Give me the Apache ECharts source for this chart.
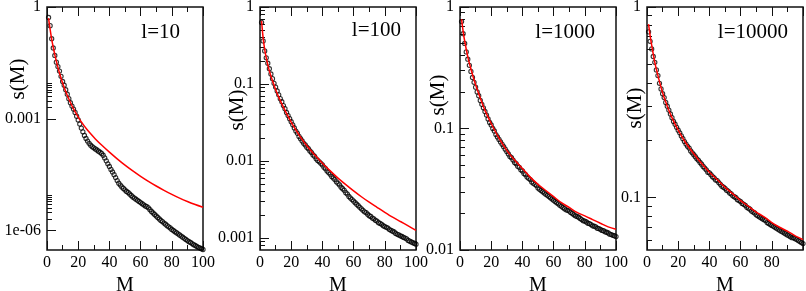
<!DOCTYPE html>
<html><head><meta charset="utf-8">
<script src="https://cdn.jsdelivr.net/npm/echarts@6/dist/echarts.min.js"></script>
<style>html,body{margin:0;padding:0;background:#fff}#c{width:806px;height:291px}</style>
</head><body><div id="c"></div><script>
// ---- data ----
const M = [1,2,3,4,5,6,7,8,9,10,11,12,13,14,15,16,17,18,19,20,21,22,23,24,25,26,27,28,29,30,31,32,33,34,35,36,37,38,39,40,41,42,43,44,45,46,47,48,49,50,51,52,53,54,55,56,57,58,59,60,61,62,63,64,65,66,67,68,69,70,71,72,73,74,75,76,77,78,79,80,81,82,83,84,85,86,87,88,89,90,91,92,93,94,95,96,97,98,99,100];

const black10 = [0.525,0.316,0.141,0.0794,0.0501,0.0331,0.0251,0.0191,0.0138,0.0100,
7.94e-3,6.03e-3,4.57e-3,3.47e-3,2.69e-3,2.19e-3,1.82e-3,1.48e-3,1.175e-3,9.33e-4,
7.24e-4,5.62e-4,4.47e-4,3.55e-4,2.95e-4,2.51e-4,2.19e-4,1.95e-4,1.78e-4,1.66e-4,
1.55e-4,1.45e-4,1.35e-4,1.26e-4,1.175e-4,1.047e-4,8.91e-5,7.41e-5,6.17e-5,5.25e-5,
4.37e-5,3.72e-5,3.16e-5,2.63e-5,2.19e-5,1.86e-5,1.66e-5,1.48e-5,1.35e-5,1.23e-5,
1.12e-5,1.047e-5,9.55e-6,8.71e-6,7.94e-6,7.41e-6,6.92e-6,6.46e-6,6.03e-6,5.62e-6,
5.25e-6,4.90e-6,4.57e-6,4.37e-6,4.07e-6,3.63e-6,3.24e-6,2.95e-6,2.69e-6,2.45e-6,
2.24e-6,2.04e-6,1.86e-6,1.74e-6,1.585e-6,1.48e-6,1.35e-6,1.26e-6,1.175e-6,1.07e-6,
1.00e-6,9.33e-7,8.71e-7,8.13e-7,7.59e-7,7.08e-7,6.61e-7,6.17e-7,5.75e-7,5.37e-7,
5.01e-7,4.79e-7,4.47e-7,4.17e-7,3.98e-7,3.72e-7,3.55e-7,3.39e-7,3.24e-7,3.09e-7];
const redM10 = [1,2,3,4,5,6,7,8,9,10,12,14,16,18,20,22,25,28,31,35,40,45,50,55,60,65,70,75,80,85,90,95,100];
const red10 = [0.501,0.251,0.138,0.0832,0.0525,0.0347,0.0240,0.0170,0.0123,9.12e-3,5.37e-3,3.39e-3,2.24e-3,1.55e-3,1.109e-3,8.22e-4,5.56e-4,3.94e-4,2.88e-4,1.97e-4,1.27e-4,8.41e-5,5.69e-5,3.98e-5,2.85e-5,2.09e-5,1.567e-5,1.20e-5,9.33e-6,7.41e-6,6.03e-6,5.01e-6,4.22e-6];

const black100 = [0.631,0.363,0.269,0.219,0.186,0.158,0.135,0.1175,0.102,0.0912,
0.0813,0.0724,0.0646,0.0589,0.0525,0.0479,0.0427,0.0389,0.0355,0.0324,
0.0295,0.0269,0.0245,0.0229,0.0209,0.0195,0.0182,0.0170,0.0162,0.0151,
0.01445,0.0135,0.0129,0.0120,0.0115,0.0107,0.0102,9.77e-3,9.33e-3,8.91e-3,
8.32e-3,7.94e-3,7.41e-3,7.08e-3,6.76e-3,6.31e-3,6.03e-3,5.75e-3,5.37e-3,5.13e-3,
4.90e-3,4.57e-3,4.37e-3,4.17e-3,3.89e-3,3.72e-3,3.47e-3,3.31e-3,3.16e-3,3.02e-3,
2.88e-3,2.75e-3,2.63e-3,2.51e-3,2.40e-3,2.29e-3,2.19e-3,2.14e-3,2.04e-3,1.95e-3,
1.91e-3,1.82e-3,1.78e-3,1.70e-3,1.66e-3,1.585e-3,1.55e-3,1.51e-3,1.445e-3,1.41e-3,
1.38e-3,1.35e-3,1.29e-3,1.26e-3,1.23e-3,1.20e-3,1.15e-3,1.12e-3,1.10e-3,1.07e-3,
1.05e-3,1.02e-3,1.00e-3,9.77e-4,9.33e-4,9.12e-4,8.91e-4,8.71e-4,8.51e-4,8.32e-4];
const redM100 = [1,2,3,4,5,6,8,10,12,15,18,21,25,30,35,40,45,50,55,60,65,70,75,80,85,90,95,100];
const red100 = [0.661,0.398,0.282,0.219,0.178,0.148,0.110,0.0851,0.0676,0.0501,0.0380,0.0295,0.0219,0.0158,0.01205,9.38e-3,7.45e-3,6.01e-3,4.94e-3,4.10e-3,3.44e-3,2.92e-3,2.51e-3,2.16e-3,1.87e-3,1.64e-3,1.44e-3,1.26e-3];

const black1000 = [0.759,0.603,0.501,0.427,0.372,0.331,0.295,0.263,0.240,0.219,
0.200,0.186,0.170,0.158,0.148,0.138,0.129,0.120,0.112,0.107,
0.100,0.0955,0.0891,0.0851,0.0813,0.0776,0.0741,0.0708,0.0676,0.0646,
0.0617,0.0589,0.0575,0.0550,0.0525,0.0513,0.0490,0.0479,0.0457,0.0447,
0.0427,0.0417,0.0398,0.0389,0.0380,0.0363,0.0355,0.0347,0.0339,0.0324,
0.0316,0.0309,0.0302,0.0295,0.0288,0.0282,0.0275,0.0269,0.0263,0.0257,
0.0251,0.0245,0.0240,0.0234,0.0229,0.0224,0.0219,0.0214,0.0212,0.0209,
0.0204,0.0200,0.0195,0.0191,0.0189,0.0186,0.0182,0.0178,0.0174,0.0173,
0.0170,0.0166,0.0165,0.0162,0.0158,0.0157,0.0155,0.0151,0.0150,0.0148,
0.0145,0.0144,0.0141,0.0140,0.0138,0.0135,0.0134,0.0132,0.0131,0.0129];
const redM1000 = [1,2,3,5,7,10,13,16,20,25,30,35,40,45,50,55,60,65,70,75,80,85,90,95,100];
const red1000 = [0.794,0.631,0.525,0.389,0.309,0.229,0.178,0.141,0.110,0.0832,0.0661,0.0550,0.0468,0.0398,0.0347,0.0309,0.0275,0.0245,0.0224,0.0204,0.0191,0.0178,0.0166,0.0155,0.0148];

const black10000 = [0.741,0.661,0.603,0.550,0.513,0.468,0.437,0.398,0.372,0.351,
0.335,0.316,0.302,0.288,0.275,0.263,0.251,0.243,0.234,0.226,
0.219,0.211,0.204,0.197,0.191,0.186,0.182,0.176,0.172,0.168,
0.164,0.160,0.157,0.153,0.150,0.146,0.143,0.140,0.136,0.135,
0.132,0.129,0.127,0.124,0.123,0.120,0.1175,0.115,0.1135,0.112,
0.1096,0.1084,0.1059,0.1047,0.1023,0.1012,0.100,0.0977,0.0966,0.0955,
0.0933,0.0923,0.0912,0.0891,0.0881,0.0871,0.0851,0.0841,0.0832,0.0813,
0.0804,0.0794,0.0785,0.0776,0.0767,0.0759,0.0741,0.0733,0.0724,0.0716,
0.0708,0.0700,0.0692,0.0684,0.0676,0.0668,0.0661,0.0653,0.0646,0.0638,
0.0631,0.0624,0.0617,0.0616,0.0610,0.0603,0.0596,0.0589,0.0582,0.0575];
const redM10000 = [1,2,3,5,7,10,13,16,20,25,30,35,40,45,50,55,60,65,70,75,80,85,90,95,100];
const red10000 = [0.813,0.708,0.631,0.513,0.437,0.355,0.302,0.263,0.226,0.193,0.170,0.151,0.136,0.1245,0.1135,0.1047,0.0966,0.0902,0.0841,0.0794,0.0741,0.0700,0.0668,0.0631,0.0603];

// tick values and labels
const panelLabels = ['l=10','l=100','l=1000','l=10000'];
const yMins = [3e-7, 7.0e-4, 0.01, 0.0532];
const majorTicks = [[1,1e-3,1e-6],[1,0.1,0.01,0.001],[1,0.1,0.01],[1,0.1]];
const majorLabels = [['1','0.001','1e-06'],['1','0.1','0.01','0.001'],['1','0.1','0.01'],['1','0.1']];
const minorTicks = [
  [0.002,0.003,0.004,0.005,0.006,0.007,0.008,0.009,2e-6,3e-6,4e-6,5e-6,6e-6,7e-6,8e-6,9e-6],
  [0.2,0.3,0.4,0.5,0.6,0.7,0.8,0.9,0.02,0.03,0.04,0.05,0.06,0.07,0.08,0.09,0.002,0.003,0.004,0.005,0.006,0.007,0.008,0.009,0.0008,0.0009],
  [0.2,0.3,0.4,0.5,0.6,0.7,0.8,0.9,0.02,0.03,0.04,0.05,0.06,0.07,0.08,0.09],
  [0.2,0.3,0.4,0.5,0.6,0.7,0.8,0.9,0.06,0.07,0.08,0.09]
];
const xShowMax = [true,true,true,false];

// ---- layout ----
const lefts = [47, 260, 460, 647];
const plotW = 156, plotTop = 7, plotBottom = 41;
const yTitlePos = [[18,79],[237,110],[438,95],[635,108]];
const legendPos = [[180,32],[401,30],[595,32],[788,32]];

const blacks = [black10, black100, black1000, black10000];
const redXs = [redM10, redM100, redM1000, redM10000];
const reds = [red10, red100, red1000, red10000];

const FONT = '"Liberation Serif", "DejaVu Serif", serif';
const grids = [], xAxes = [], yAxes = [], series = [], graphics = [];

for (let i = 0; i < 4; i++) {
  grids.push({left: lefts[i], width: plotW, top: plotTop, bottom: plotBottom, show: true,
    containLabel: false, outerBoundsMode: 'none',
    borderColor: '#111', borderWidth: 1.5, backgroundColor: 'transparent'});
  const xBase = {type: 'value', gridIndex: i, min: 0, max: 100, interval: 20,
    axisLine: {show: false}, splitLine: {show: false},
    axisTick: {show: true, inside: true, length: 9, lineStyle: {color: '#111', width: 1}},
    minorTick: {show: true, splitNumber: 2, length: 5, lineStyle: {color: '#111', width: 1}}};
  xAxes.push(Object.assign({}, xBase, {position: 'bottom',
    name: 'M', nameLocation: 'middle', nameGap: 20,
    nameTextStyle: {fontFamily: FONT, fontSize: 20, color: '#000'},
    axisLabel: {show: true, fontFamily: FONT, fontSize: 16, color: '#000', margin: 5,
      showMaxLabel: xShowMax[i]}}));
  xAxes.push(Object.assign({}, xBase, {position: 'top', axisLabel: {show: false}}));

  const maj = majorTicks[i], lab = majorLabels[i];
  yAxes.push({type: 'log', logBase: 10, gridIndex: i, min: yMins[i], max: 1, position: 'left',
    axisLine: {show: false}, splitLine: {show: false}, minorTick: {show: false},
    axisTick: {show: true, inside: true, length: 9, customValues: maj, lineStyle: {color: '#111', width: 1}},
    axisLabel: {show: true, customValues: maj, fontFamily: FONT, fontSize: 16, color: '#000', margin: 6,
      formatter: function (v) {
        for (let k = 0; k < maj.length; k++) if (Math.abs(Math.log10(v / maj[k])) < 0.01) return lab[k];
        return '';
      }}});
  yAxes.push({type: 'log', logBase: 10, gridIndex: i, min: yMins[i], max: 1, position: 'left',
    axisLine: {show: false}, splitLine: {show: false}, minorTick: {show: false},
    axisLabel: {show: false},
    axisTick: {show: true, inside: true, length: 5, customValues: minorTicks[i], lineStyle: {color: '#111', width: 1}}});

  series.push({type: 'scatter', xAxisIndex: 2 * i, yAxisIndex: 2 * i,
    data: M.map((m, k) => [m, blacks[i][k]]),
    symbol: 'circle', symbolSize: 4.2,
    itemStyle: {color: 'rgba(255,255,255,0)', borderColor: '#000', borderWidth: 1.1},
    clip: false, z: 2});
  series.push({type: 'line', xAxisIndex: 2 * i, yAxisIndex: 2 * i,
    data: redXs[i].map((m, k) => [m, reds[i][k]]),
    showSymbol: false, smooth: 0.3, lineStyle: {color: '#ff0000', width: 1.5}, z: 3});

  graphics.push({type: 'text', x: yTitlePos[i][0], y: yTitlePos[i][1], rotation: Math.PI / 2,
    style: {text: 's(M)', font: '21px ' + FONT, fill: '#000', align: 'center', verticalAlign: 'middle'}});
  graphics.push({type: 'text', x: legendPos[i][0], y: legendPos[i][1],
    style: {text: panelLabels[i], font: '21px ' + FONT, fill: '#000', align: 'right', verticalAlign: 'middle'}});
}

const chart = echarts.init(document.getElementById('c'), null, {renderer: 'canvas'});
chart.setOption({animation: false, backgroundColor: '#fff',
  grid: grids, xAxis: xAxes, yAxis: yAxes, series: series, graphic: graphics});
</script></body></html>
